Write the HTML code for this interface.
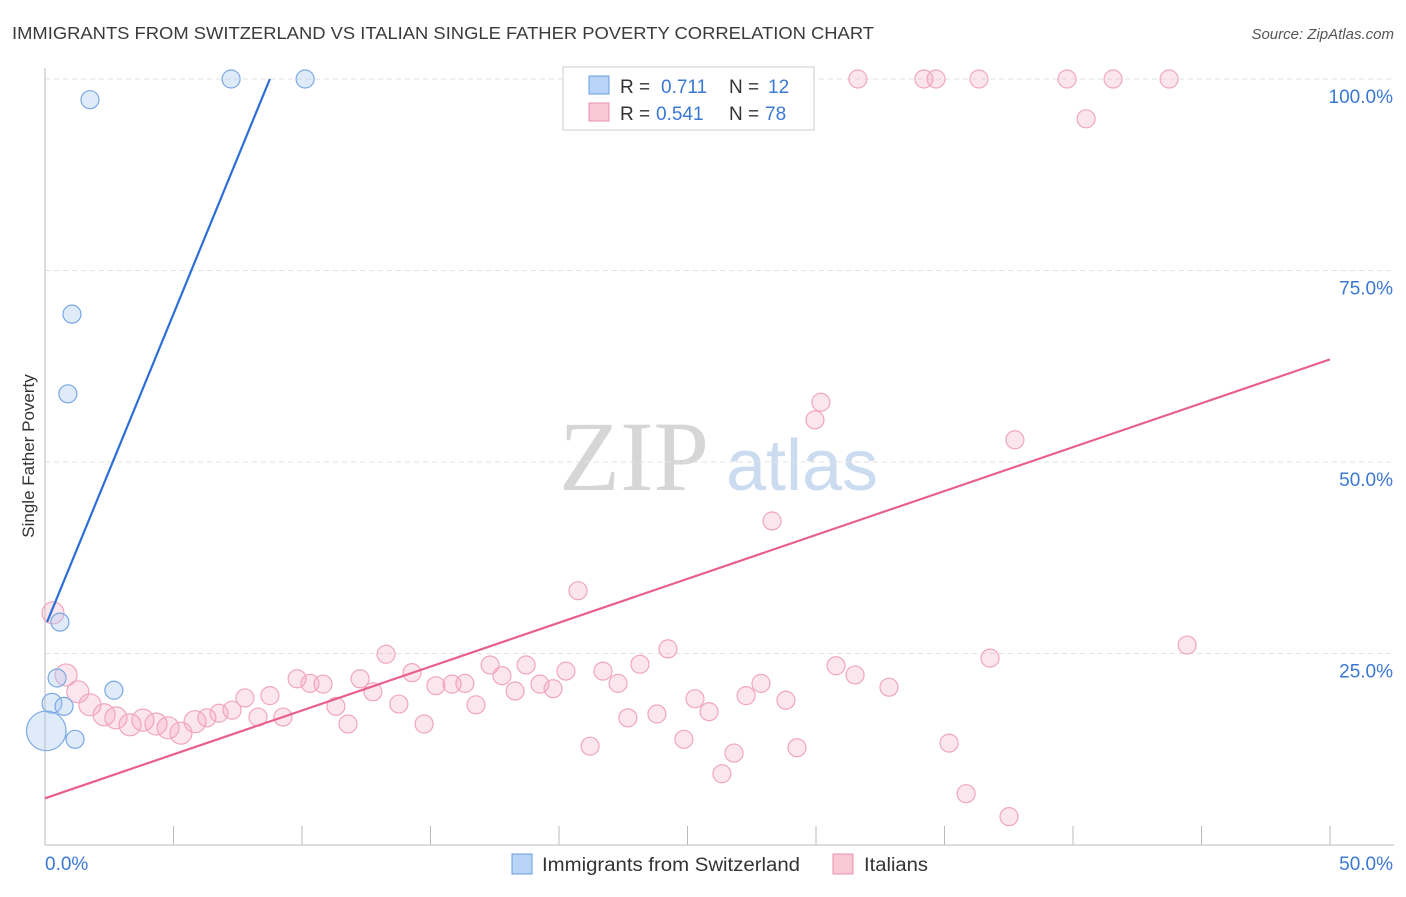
<!DOCTYPE html>
<html><head><meta charset="utf-8"><style>
body{margin:0;background:#fff;}
</style></head><body>
<svg id="chart" width="1406" height="892" viewBox="0 0 1406 892" xmlns="http://www.w3.org/2000/svg" font-family="Liberation Sans, sans-serif">
<text x="12" y="39" font-size="17.5" fill="#3a3a3a" textLength="862" lengthAdjust="spacingAndGlyphs">IMMIGRANTS FROM SWITZERLAND VS ITALIAN SINGLE FATHER POVERTY CORRELATION CHART</text>
<text x="1394" y="39" font-size="15" fill="#555" text-anchor="end" font-style="italic">Source: ZipAtlas.com</text>
<text transform="translate(34,456) rotate(-90)" font-size="17" fill="#333" text-anchor="middle">Single Father Poverty</text>
<g>
<text x="634" y="490" font-size="100" fill="#d6d6d6" style="font-family:'Liberation Serif',serif" text-anchor="middle">ZIP</text>
<text x="802" y="490" font-size="72" fill="#cbdcf1" text-anchor="middle">atlas</text>
</g>
<g id="grid"></g><g id="axes"></g><g id="pts"></g><g id="trends"></g>
<g>
<rect x="563" y="67" width="251" height="63" fill="#fff" stroke="#ccc"/>
<rect x="589" y="76" width="20" height="18" fill="#b8d4f6" stroke="#6a9ee0"/>
<rect x="589" y="103" width="20" height="18" fill="#f9c8d6" stroke="#ec8fab"/>
<text x="620" y="93" font-size="19" fill="#333">R =</text><text x="661" y="93" font-size="19" fill="#3a78d4">0.711</text>
<text x="729" y="93" font-size="19" fill="#333">N =</text><text x="768" y="93" font-size="19" fill="#3a78d4">12</text>
<text x="620" y="120" font-size="19" fill="#333">R =</text><text x="656" y="120" font-size="19" fill="#3a78d4">0.541</text>
<text x="729" y="120" font-size="19" fill="#333">N =</text><text x="765" y="120" font-size="19" fill="#3a78d4">78</text>
</g>
<g>
<rect x="512" y="854" width="20" height="20" fill="#b8d4f6" stroke="#6a9ee0"/>
<text x="542" y="871" font-size="19" fill="#333" textLength="258" lengthAdjust="spacingAndGlyphs">Immigrants from Switzerland</text>
<rect x="833" y="854" width="20" height="20" fill="#f9c8d6" stroke="#ec8fab"/>
<text x="864" y="871" font-size="19" fill="#333" textLength="64" lengthAdjust="spacingAndGlyphs">Italians</text>
</g>
</svg>
<script>
const blueX=[1.75,7.24,10.12,1.05,0.89,0.58,0.47,2.68,0.27,0.74,1.17,0.05];
const blueY=[97.3,100,100,69.3,58.9,29.1,21.8,20.2,18.5,18.1,13.8,14.9];
const blueW=[1,1,1,1,1,1,1,1,1.1,1,1,2.2];
const pinkX=[0.31,0.82,1.28,1.75,2.30,2.76,3.31,3.81,4.32,4.79,5.29,5.84,6.30,6.77,7.28,7.78,8.29,8.75,9.26,9.81,10.31,10.82,11.32,11.79,12.26,12.76,13.27,13.77,14.28,14.75,15.21,15.84,16.34,16.77,17.32,17.78,18.29,18.72,19.26,19.77,20.27,20.74,21.21,21.71,22.30,22.68,23.15,23.81,24.24,24.86,25.29,25.84,26.34,26.81,27.28,27.86,28.29,28.83,29.26,29.96,30.19,30.78,31.52,31.63,32.84,34.20,34.67,35.18,35.84,36.34,36.77,37.51,37.74,39.77,40.51,41.56,43.74,44.44];
const pinkY=[30.3,22.2,20.0,18.3,17.0,16.6,15.7,16.3,15.8,15.3,14.6,16.1,16.6,17.2,17.6,19.2,16.7,19.5,16.7,21.7,21.1,21.0,18.1,15.8,21.7,20.0,24.9,18.4,22.5,15.8,20.8,21.0,21.1,18.3,23.5,22.1,20.1,23.5,21.0,20.4,22.7,33.2,12.9,22.7,21.1,16.6,23.6,17.1,25.6,13.8,19.1,17.4,9.3,12.0,19.5,21.1,42.3,18.9,12.7,55.5,57.8,23.4,22.2,100,20.6,100,100,13.3,6.7,100,24.4,3.7,52.9,100,94.8,100,100,26.1];
const blueTrend=[[0.08,29.1],[8.75,100]];
const pinkTrend=[[0,6.1],[50,63.4]];
const yTicks=[25,50,75,100];
const yTickLabels=["25.0%","50.0%","75.0%","100.0%"];
const xTicks=[0,5,10,15,20,25,30,35,40,45,50];
const NS="http://www.w3.org/2000/svg";
const X=v=>45+v*25.7, Y=v=>845-v*7.66;
function mk(p,t,a){const e=document.createElementNS(NS,t);for(const k in a)e.setAttribute(k,a[k]);document.getElementById(p).appendChild(e);return e;}
yTicks.forEach((t,i)=>{
 const g=mk('grid','line',{x1:45,x2:1394,y1:Y(t),y2:Y(t),stroke:'#e2e2e2','stroke-dasharray':'5,4'});
 
 
 const l=mk('axes','text',{x:1393,y:Y(t)+24,'font-size':19,fill:'#3a78d4','text-anchor':'end'});l.textContent=yTickLabels[i];
 
 
});
const ax=mk('axes','line',{x1:45,x2:45,y1:68,y2:845,stroke:'#bbb'});


const bx=mk('axes','line',{x1:45,x2:1394,y1:845,y2:845,stroke:'#bbb'});


xTicks.forEach(t=>{const e=mk('axes','line',{x1:X(t),x2:X(t),y1:826,y2:845,stroke:'#bbb'});
 
 });
let t1=mk('axes','text',{x:45,y:870,'font-size':19,fill:'#3a78d4'});t1.textContent="0.0%";


let t2=mk('axes','text',{x:1393,y:870,'font-size':19,fill:'#3a78d4','text-anchor':'end'});t2.textContent="50.0%";


pinkX.forEach((v,i)=>{const c=mk('pts','circle',{cx:X(v),cy:Y(pinkY[i]),r:i<12?11:9,fill:'rgba(245,165,190,0.28)',stroke:'#f0a6bd','stroke-width':1.2});
 
 });
blueX.forEach((v,i)=>{const c=mk('pts','circle',{cx:X(v),cy:Y(blueY[i]),r:9*blueW[i],fill:'rgba(165,198,240,0.35)',stroke:'#7aa8e3','stroke-width':1.2});
 
 });
const bl=mk('trends','line',{x1:X(blueTrend[0][0]),y1:Y(blueTrend[0][1]),x2:X(blueTrend[1][0]),y2:Y(blueTrend[1][1]),stroke:'#2d6fd6','stroke-width':2.2});


const pl=mk('trends','line',{x1:X(pinkTrend[0][0]),y1:Y(pinkTrend[0][1]),x2:X(pinkTrend[1][0]),y2:Y(pinkTrend[1][1]),stroke:'#e8608a','stroke-width':2.2});


</script>
</body></html>
